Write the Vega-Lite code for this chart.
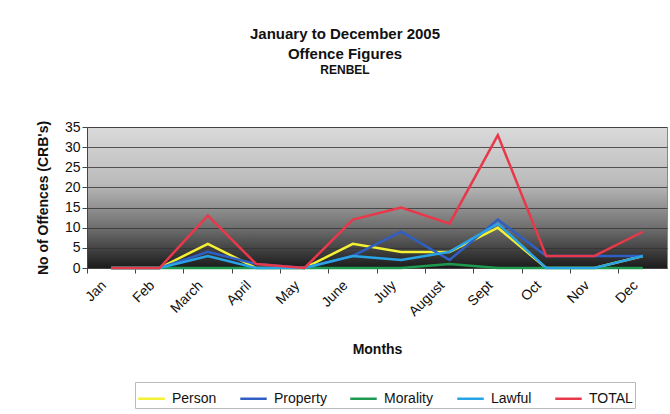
{
  "$schema": "https://vega.github.io/schema/vega-lite/v6.json",
  "autosize": "none",
  "width": 580,
  "height": 141,
  "padding": {"left": 87, "top": 127, "right": 3, "bottom": 146},
  "background": "white",
  "title": {
    "text": ["January to December 2005", "Offence Figures"],
    "subtitle": "RENBEL",
    "anchor": "middle",
    "dx": -32,
    "offset": 44,
    "font": "Liberation Sans",
    "fontSize": 15,
    "fontWeight": "bold",
    "lineHeight": 20,
    "color": "#111",
    "subtitleFont": "Liberation Sans",
    "subtitleFontSize": 12,
    "subtitleFontWeight": "bold",
    "subtitleColor": "#111",
    "subtitlePadding": 3
  },
  "config": {
    "font": "Liberation Sans",
    "view": {
      "stroke": "#888",
      "fill": {"gradient": "linear", "x1": 0, "y1": 0, "x2": 0, "y2": 1,
        "stops": [{"offset": 0, "color": "#dadada"}, {"offset": 0.4, "color": "#bababa"}, {"offset": 0.72, "color": "#6c6c6c"}, {"offset": 1, "color": "#1a1a1a"}]}
    }
  },
  "data": {
    "values": [
      {"month": "Jan", "series": "Person", "value": 0},
      {"month": "Feb", "series": "Person", "value": 0},
      {"month": "March", "series": "Person", "value": 6},
      {"month": "April", "series": "Person", "value": 0},
      {"month": "May", "series": "Person", "value": 0},
      {"month": "June", "series": "Person", "value": 6},
      {"month": "July", "series": "Person", "value": 4},
      {"month": "August", "series": "Person", "value": 4},
      {"month": "Sept", "series": "Person", "value": 10},
      {"month": "Oct", "series": "Person", "value": 0},
      {"month": "Nov", "series": "Person", "value": 0},
      {"month": "Dec", "series": "Person", "value": 3},
      {"month": "Jan", "series": "Property", "value": 0},
      {"month": "Feb", "series": "Property", "value": 0},
      {"month": "March", "series": "Property", "value": 4},
      {"month": "April", "series": "Property", "value": 1},
      {"month": "May", "series": "Property", "value": 0},
      {"month": "June", "series": "Property", "value": 3},
      {"month": "July", "series": "Property", "value": 9},
      {"month": "August", "series": "Property", "value": 2},
      {"month": "Sept", "series": "Property", "value": 12},
      {"month": "Oct", "series": "Property", "value": 3},
      {"month": "Nov", "series": "Property", "value": 3},
      {"month": "Dec", "series": "Property", "value": 3},
      {"month": "Jan", "series": "Morality", "value": 0},
      {"month": "Feb", "series": "Morality", "value": 0},
      {"month": "March", "series": "Morality", "value": 0},
      {"month": "April", "series": "Morality", "value": 0},
      {"month": "May", "series": "Morality", "value": 0},
      {"month": "June", "series": "Morality", "value": 0},
      {"month": "July", "series": "Morality", "value": 0},
      {"month": "August", "series": "Morality", "value": 1},
      {"month": "Sept", "series": "Morality", "value": 0},
      {"month": "Oct", "series": "Morality", "value": 0},
      {"month": "Nov", "series": "Morality", "value": 0},
      {"month": "Dec", "series": "Morality", "value": 0},
      {"month": "Jan", "series": "Lawful", "value": 0},
      {"month": "Feb", "series": "Lawful", "value": 0},
      {"month": "March", "series": "Lawful", "value": 3},
      {"month": "April", "series": "Lawful", "value": 0},
      {"month": "May", "series": "Lawful", "value": 0},
      {"month": "June", "series": "Lawful", "value": 3},
      {"month": "July", "series": "Lawful", "value": 2},
      {"month": "August", "series": "Lawful", "value": 4},
      {"month": "Sept", "series": "Lawful", "value": 11},
      {"month": "Oct", "series": "Lawful", "value": 0},
      {"month": "Nov", "series": "Lawful", "value": 0},
      {"month": "Dec", "series": "Lawful", "value": 3},
      {"month": "Jan", "series": "TOTAL", "value": 0},
      {"month": "Feb", "series": "TOTAL", "value": 0},
      {"month": "March", "series": "TOTAL", "value": 13},
      {"month": "April", "series": "TOTAL", "value": 1},
      {"month": "May", "series": "TOTAL", "value": 0},
      {"month": "June", "series": "TOTAL", "value": 12},
      {"month": "July", "series": "TOTAL", "value": 15},
      {"month": "August", "series": "TOTAL", "value": 11},
      {"month": "Sept", "series": "TOTAL", "value": 33},
      {"month": "Oct", "series": "TOTAL", "value": 3},
      {"month": "Nov", "series": "TOTAL", "value": 3},
      {"month": "Dec", "series": "TOTAL", "value": 9}
    ]
  },
  "mark": {"type": "line", "strokeWidth": 2.5},
  "encoding": {
    "x": {
      "field": "month",
      "type": "ordinal",
      "sort": null,
      "bandPosition": 0.5,
      "scale": {"type": "band", "paddingInner": 0, "paddingOuter": 0},
      "axis": {
        "title": "Months",
        "titleFontSize": 14,
        "titleFontWeight": "bold",
        "titlePadding": 24,
        "titleColor": "#111",
        "labelAngle": -45,
        "labelFontSize": 14,
        "labelColor": "#111",
        "labelPadding": 5,
        "labelOffset": -12,
        "bandPosition": 0,
        "tickColor": "#444",
        "domainColor": "#444",
        "grid": false
      }
    },
    "y": {
      "field": "value",
      "type": "quantitative",
      "scale": {"domain": [0, 35], "nice": false},
      "axis": {
        "title": "No of Offences (CRB's)",
        "titleFontSize": 14,
        "titleFontWeight": "bold",
        "titleColor": "#111",
        "titlePadding": 14,
        "values": [0, 5, 10, 15, 20, 25, 30, 35],
        "labelFontSize": 14,
        "labelColor": "#111",
        "gridColor": "#333",
        "gridOpacity": 0.8,
        "domainColor": "#444",
        "tickColor": "#444"
      }
    },
    "color": {
      "field": "series",
      "type": "nominal",
      "scale": {
        "domain": ["Person", "Property", "Morality", "Lawful", "TOTAL"],
        "range": ["#f4f032", "#2f5fc4", "#1e9a50", "#27a3e6", "#e8384a"]
      },
      "legend": {
        "title": null,
        "orient": "none",
        "legendX": 48,
        "legendY": 255,
        "direction": "horizontal",
        "symbolType": "stroke",
        "symbolSize": 700,
        "symbolStrokeWidth": 2.5,
        "labelFontSize": 14,
        "labelOffset": 6,
        "labelColor": "#111",
        "columnPadding": 18,
        "strokeColor": "#bbb",
        "padding": 2,
        "fillColor": "white"
      }
    }
  }
}
